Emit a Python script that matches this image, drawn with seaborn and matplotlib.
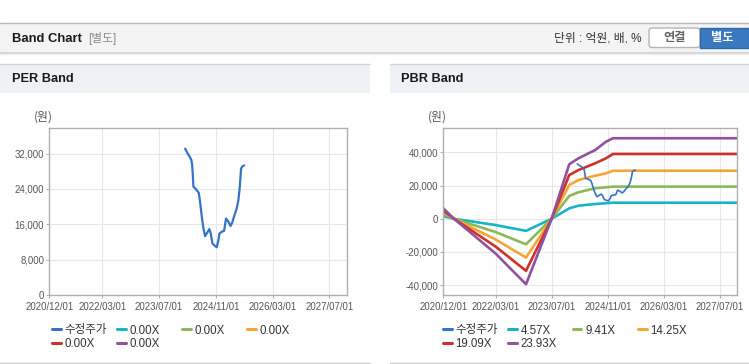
import matplotlib
matplotlib.use("Agg")
import matplotlib.pyplot as plt
from matplotlib.patches import Rectangle, FancyBboxPatch
from matplotlib.lines import Line2D
import pandas as pd
import seaborn as sns

# --- data ---
PRICE_DATES = ["2024-02-09", "2024-02-29", "2024-03-17", "2024-04-03", "2024-04-09",
               "2024-04-14", "2024-04-20", "2024-05-13", "2024-06-05", "2024-06-16",
               "2024-07-01", "2024-07-15", "2024-07-29", "2024-08-12", "2024-09-04",
               "2024-09-16", "2024-09-30", "2024-10-17", "2024-11-06", "2024-11-21",
               "2024-11-29", "2024-12-19", "2025-01-08", "2025-01-25", "2025-02-14",
               "2025-03-04", "2025-03-18", "2025-04-04", "2025-04-27", "2025-05-11",
               "2025-05-23", "2025-06-03", "2025-06-15", "2025-06-29"]
PRICE = [33100, 32100, 31400, 30500, 29400, 27500, 24500, 23900, 23100, 21100,
         17700, 15100, 13300, 13900, 14900, 13900, 11700, 11200, 10800, 12400,
         13900, 14300, 14500, 17300, 16600, 15600, 16300, 17800, 19600, 21500,
         24500, 28600, 29100, 29300]

BAND_DATES = ["2020-12-01", "2021-03-04", "2022-03-01", "2022-11-20", "2023-07-01",
              "2023-12-01", "2024-02-19", "2024-07-14", "2024-10-15", "2024-12-15",
              "2027-12-01"]
PBR_BAND_1 = [1500, 0, -3800, -7300, 0, 6300, 7900, 8900, 9400, 9700, 9700]
PBR_BAND_2 = [2800, 0, -8000, -15400, 0, 13800, 16000, 18400, 19000, 19400, 19400]
PBR_BAND_3 = [4000, 0, -12500, -23400, 0, 20400, 23400, 26000, 27400, 29000, 29000]
PBR_BAND_4 = [5000, 0, -16800, -31400, 0, 26400, 29400, 33500, 36500, 39100, 39100]
PBR_BAND_5 = [6300, 0, -21000, -39500, 0, 32900, 36500, 41500, 46500, 48600, 48600]

PER_LABELS = ["수정주가", "0.00X", "0.00X", "0.00X", "0.00X", "0.00X"]
PBR_LABELS = ["수정주가", "4.57X", "9.41X", "14.25X", "19.09X", "23.93X"]

PER_YTICKS = [0, 8000, 16000, 24000, 32000]
PBR_YTICKS = [-40000, -20000, 0, 20000, 40000]
X_TICKS = ["2020/12/01", "2022/03/01", "2023/07/01", "2024/11/01", "2026/03/01", "2027/07/01"]

PRICE_COLOR = "#3473c8"
BAND_COLORS = ["#19b3c6", "#8cb857", "#f4a634", "#d1302a", "#91519e"]

W, H = 749, 364

sns.set_theme(style="white")
plt.rcParams['font.family'] = ['Liberation Sans', 'Noto Sans CJK KR']

fig = plt.figure(figsize=(W / 100, H / 100), dpi=100)

# --- page background (pixel coords) ---
bg = fig.add_axes([0, 0, 1, 1], zorder=-10)
bg.set_xlim(0, W)
bg.set_ylim(H, 0)
bg.axis('off')

bg.add_patch(Rectangle((0, 23), W, 29.5, facecolor="#f4f4f4", edgecolor="none"))
bg.plot([0, W], [22.7, 22.7], color="#b9b9b9", lw=1)
bg.plot([0, W], [52.8, 52.8], color="#cfcfcf", lw=1.2)
bg.plot([0, W], [54.2, 54.2], color="#ececec", lw=1)
bg.text(11.7, 38.5, "Band Chart", fontsize=9.4, fontweight='bold', color="#1a1a1a",
        ha='left', va='center')
bg.text(88, 38.5, "[별도]", fontsize=8.5, color="#8c8c8c", ha='left', va='center')
bg.text(641, 38.5, "단위 : 억원, 배, %", fontsize=8.5, color="#333333", ha='right', va='center')
bg.add_patch(FancyBboxPatch((649, 28), 51, 19.5, boxstyle="round,pad=0,rounding_size=3",
                            facecolor="white", edgecolor="#b5b5b5", lw=1))
bg.text(674.5, 38.3, "연결", fontsize=8.8, fontweight='bold', color="#666666",
        ha='center', va='center')
bg.add_patch(Rectangle((700, 28), 49, 19.5, facecolor="#3a78c0", edgecolor="#2f69ad", lw=1))
bg.text(722, 38.3, "별도", fontsize=8.8, fontweight='bold', color="white",
        ha='center', va='center')

for x0, x1, title in [(0, 370, "PER Band"), (389.5, W, "PBR Band")]:
    bg.add_patch(Rectangle((x0, 64.3), x1 - x0, 28.4, facecolor="#eef1f6", edgecolor="none"))
    bg.plot([x0, x1], [64.3, 64.3], color="#d6d6d6", lw=1)
    bg.plot([x0, x1], [362.5, 362.5], color="#cccccc", lw=1)
    bg.text(x0 + 11.7, 78.5, title, fontsize=9.2, fontweight='bold', color="#1a1a1a",
            ha='left', va='center')

bg.text(43.5, 117.5, "(원)", fontsize=8.6, color="#555555", ha='center', va='center',
        family=['Noto Sans CJK KR'])
bg.text(437.5, 117.5, "(원)", fontsize=8.6, color="#555555", ha='center', va='center',
        family=['Noto Sans CJK KR'])

# --- charts ---
ax_per = fig.add_axes([49.3 / W, 1 - 295 / H, 298 / W, 166.7 / H])
ax_pbr = fig.add_axes([443.3 / W, 1 - 295 / H, 294 / W, 166.7 / H])

price_dates = pd.to_datetime(PRICE_DATES)
band_dates = pd.to_datetime(BAND_DATES)

sns.lineplot(x=price_dates, y=PRICE, ax=ax_per, color=PRICE_COLOR, lw=1.6, legend=False)

bands = pd.DataFrame({
    "date": list(band_dates) * 5,
    "value": PBR_BAND_1 + PBR_BAND_2 + PBR_BAND_3 + PBR_BAND_4 + PBR_BAND_5,
    "band": sum([[lab] * len(BAND_DATES) for lab in PBR_LABELS[1:]], []),
})
sns.lineplot(data=bands, x="date", y="value", hue="band", hue_order=PBR_LABELS[1:],
             palette=BAND_COLORS, ax=ax_pbr, lw=1.9, legend=False)
sns.lineplot(x=price_dates, y=PRICE, ax=ax_pbr, color=PRICE_COLOR, lw=1.2, legend=False)

x_tick_pos = pd.to_datetime([t.replace("/", "-") for t in X_TICKS])
for ax, yticks, ylim in [(ax_per, PER_YTICKS, (0, 37700)), (ax_pbr, PBR_YTICKS, (-46000, 54600))]:
    ax.set_xlim(pd.Timestamp("2020-12-01"), pd.Timestamp("2027-12-01"))
    ax.set_ylim(*ylim)
    ax.set_xticks(x_tick_pos)
    ax.set_xticklabels(X_TICKS)
    ax.set_yticks(yticks)
    ax.set_yticklabels([f"{v:,}" for v in yticks])
    ax.set_xlabel("")
    ax.set_ylabel("")
    ax.grid(True, color="#e8e8e8", lw=0.8)
    ax.set_axisbelow(True)
    for s in ax.spines.values():
        s.set_color("#b0b0b0")
        s.set_linewidth(1)
        s.set_visible(True)
    ax.tick_params(axis='both', length=2.2, width=0.8, color="#b0b0b0",
                   labelsize=6.9, labelcolor="#555555")
    ax.tick_params(axis='x', pad=3, bottom=True)
    ax.tick_params(axis='y', pad=1.5, left=True)

# --- legends, one entry at a time ---
def add_legend(labels, xs):
    handles = [Line2D([], [], color=c, lw=2.2) for c in [PRICE_COLOR] + BAND_COLORS]
    rows = [330.5, 343.8]
    for i, (h, lab) in enumerate(zip(handles, labels)):
        col, row = i % 4, i // 4
        fig.legend([h], [lab], loc='center left',
                   bbox_to_anchor=(xs[col] / W, 1 - rows[row] / H),
                   frameon=False, borderpad=0, borderaxespad=0,
                   handlelength=0.72, handletextpad=0.35, fontsize=8.3,
                   labelcolor="#333333")

add_legend(PER_LABELS, [52.3, 117.3, 182.3, 247.3])
add_legend(PBR_LABELS, [443.3, 508.3, 572.7, 638.3])

fig.savefig("out.png", dpi=100)
